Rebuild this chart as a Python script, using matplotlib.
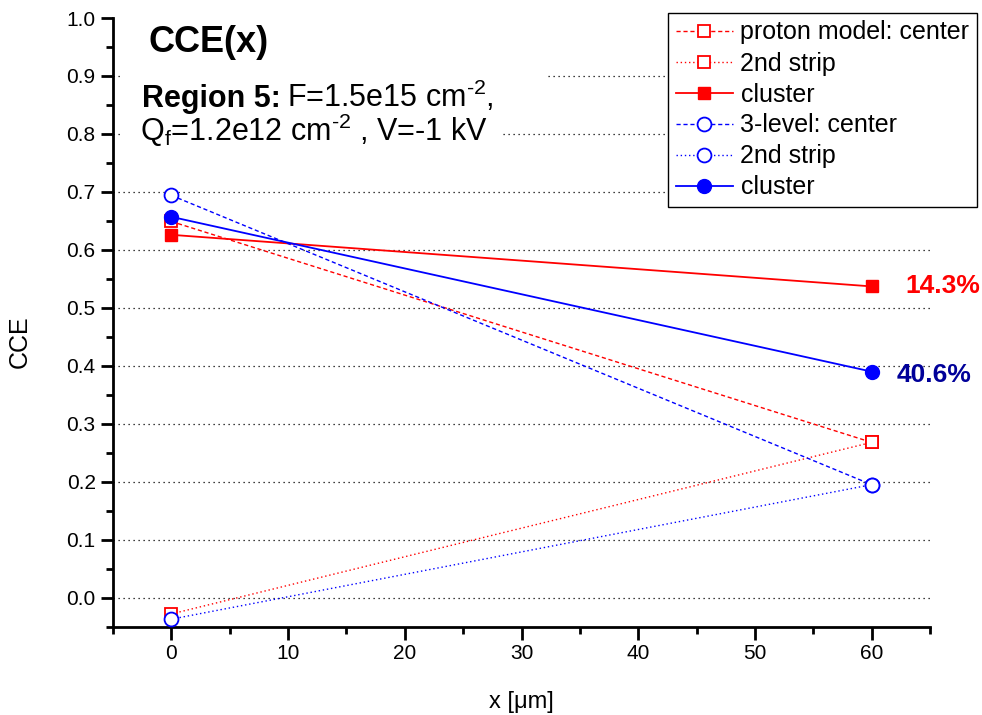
import matplotlib.pyplot as plt
from matplotlib.patches import Rectangle
from matplotlib.ticker import MultipleLocator

plt.rcParams['font.family'] = ['Liberation Sans', 'DejaVu Sans']
plt.rcParams['mathtext.fontset'] = 'custom'
plt.rcParams['mathtext.rm'] = 'Liberation Sans'
plt.rcParams['mathtext.bf'] = 'Liberation Sans:bold'
plt.rcParams['mathtext.it'] = 'Liberation Sans:italic'

# data (x in um, CCE)
x = [0, 60]
proton_center = [0.649, 0.268]
proton_2nd = [-0.028, 0.268]
proton_cluster = [0.626, 0.537]
level3_center = [0.694, 0.195]
level3_2nd = [-0.037, 0.195]
level3_cluster = [0.657, 0.390]
grid_levels = [0.0, 0.1, 0.2, 0.3, 0.4, 0.5, 0.6, 0.7, 0.8, 0.9]

red = '#ff0000'
blue = '#0000ff'

W, H = 982, 715
fig = plt.figure(figsize=(W / 100, H / 100), dpi=100)
ax = fig.add_axes([113 / W, 1 - 626.7 / H, (930 - 113) / W, (626.7 - 18) / H])

ax.plot(x, proton_center, color=red, ls=(0, (3, 2)), lw=1, marker='s', ms=9,
        mfc='white', mec=red, mew=1.3, label='proton model: center', zorder=3)
ax.plot(x, proton_2nd, color=red, ls=(0, (1, 2)), lw=1, marker='s', ms=9,
        mfc='white', mec=red, mew=1.3, label='2nd strip', zorder=3)
ax.plot(x, proton_cluster, color=red, ls='-', lw=1.3, marker='s', ms=9,
        mfc=red, mec=red, label='cluster', zorder=3)
ax.plot(x, level3_center, color=blue, ls=(0, (3, 2)), lw=1, marker='o', ms=10,
        mfc='white', mec=blue, mew=1.3, label='3-level: center', zorder=3)
ax.plot(x, level3_2nd, color=blue, ls=(0, (1, 2)), lw=1, marker='o', ms=10,
        mfc='white', mec=blue, mew=1.3, label='2nd strip', zorder=3)
ax.plot(x, level3_cluster, color=blue, ls='-', lw=1.3, marker='o', ms=10,
        mfc=blue, mec=blue, label='cluster', zorder=3)

ax.set_xlim(-5, 65)
ax.set_ylim(-0.05, 1.0)
ax.hlines(grid_levels, -5, 65, colors='black', linestyles=(0, (1, 3)),
          lw=0.9, zorder=1)
ax.xaxis.set_major_locator(MultipleLocator(10))
ax.xaxis.set_minor_locator(MultipleLocator(5))
ax.yaxis.set_major_locator(MultipleLocator(0.1))
ax.yaxis.set_minor_locator(MultipleLocator(0.05))
ax.yaxis.set_major_formatter(plt.FuncFormatter(lambda v, p: f'{v:.1f}'))
ax.tick_params(which='major', direction='out', length=9, width=2, labelsize=15)
ax.tick_params(which='minor', direction='out', length=5, width=2)
for s in ['top', 'right']:
    ax.spines[s].set_visible(False)
for s in ['left', 'bottom']:
    ax.spines[s].set_linewidth(2)

ax.set_ylabel('CCE', fontsize=18)
ax.yaxis.set_label_coords(-0.100, 0.469)
ax.set_xlabel('x [\u03bcm]', fontsize=17, labelpad=20)

leg = ax.legend(loc='upper right', bbox_to_anchor=(977 / W, 1 - 13 / H),
                bbox_transform=fig.transFigure, borderaxespad=0, fontsize=18,
                handlelength=2.3, numpoints=1, frameon=True, fancybox=False,
                framealpha=1, edgecolor='black', labelspacing=0.28,
                handletextpad=0.3, borderpad=0.3)
leg.get_frame().set_linewidth(1)
leg.set_zorder(5)

# white boxes behind the text block (hide the grid there)
for x0, y0, x1, y1 in [(120, 15, 545, 84), (120, 84, 500, 150)]:
    fig.patches.append(Rectangle((x0 / W, 1 - y1 / H), (x1 - x0) / W, (y1 - y0) / H,
                                 transform=fig.transFigure, facecolor='white',
                                 edgecolor='none', zorder=1))

fig.text(148 / W, 1 - 52 / H, 'CCE(x)', fontsize=26, fontweight='bold',
         va='baseline', zorder=3)

t1 = fig.text(142 / W, 1 - 107 / H, 'Region 5:', fontsize=22, fontweight='bold',
              va='baseline', zorder=3)
fig.canvas.draw()
bb = t1.get_window_extent()
fig.text((bb.x1 + 6) / W, 1 - 107 / H, r'F=1.5e15 cm$^{\text{-2}}$,',
         fontsize=22, va='baseline', zorder=3)
fig.text(140 / W, 1 - 141 / H, r'Q$_\mathrm{f}$=1.2e12 cm$^{\text{-2}}$ , V=-1 kV',
         fontsize=22, va='baseline', zorder=3)

fig.text(905 / W, 1 - 293 / H, '14.3%', fontsize=19, fontweight='bold',
         color=red, va='baseline')
fig.text(897 / W, 1 - 382 / H, '40.6%', fontsize=19, fontweight='bold',
         color='#000099', va='baseline')

fig.savefig('out.png', dpi=100)
